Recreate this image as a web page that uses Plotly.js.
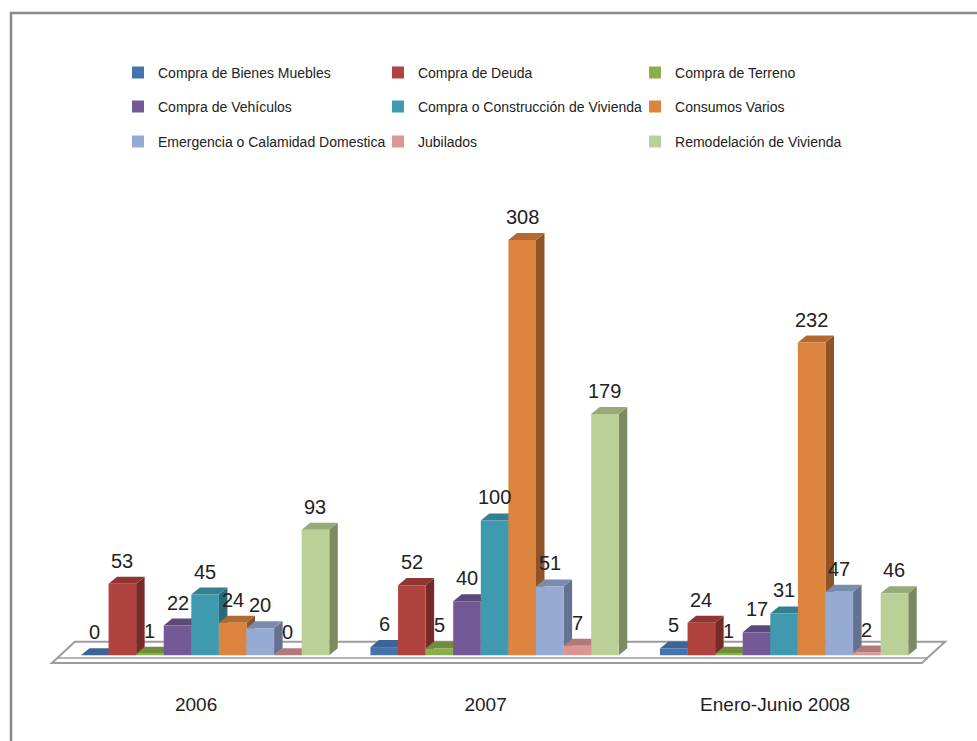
<!DOCTYPE html>
<html>
<head>
<meta charset="utf-8">
<script src="https://cdn.plot.ly/plotly-3.0.1.min.js"></script>
<style>html,body{margin:0;padding:0;background:#fff;}#chart{width:977px;height:741px;}</style>
</head>
<body>
<div id="chart"></div>
<script>
// ---- data ----
const categories = ['2006', '2007', 'Enero-Junio 2008'];
const seriesNames = [
  'Compra de Bienes Muebles', 'Compra de Deuda', 'Compra de Terreno',
  'Compra de Vehículos', 'Compra o Construcción de Vivienda', 'Consumos Varios',
  'Emergencia o Calamidad Domestica', 'Jubilados', 'Remodelación de Vivienda'
];
const bienesMuebles = [0, 6, 5];
const deuda = [53, 52, 24];
const terreno = [1, 5, 1];
const vehiculos = [22, 40, 17];
const vivienda = [45, 100, 31];
const consumos = [24, 308, 232];
const emergencia = [20, 51, 47];
const jubilados = [0, 7, 2];
const remodelacion = [93, 179, 46];
const seriesValues = [bienesMuebles, deuda, terreno, vehiculos, vivienda, consumos, emergencia, jubilados, remodelacion];

// ---- styles ----
const frontColors = ['#4473AE', '#B0433F', '#8AAE4C', '#735A96', '#3F9AB0', '#DB843D', '#95ABD4', '#D99694', '#BBD097'];
const topColors   = ['#3C6496', '#8F3533', '#6F8D3C', '#5D487A', '#347F91', '#B36A30', '#7A8CAE', '#B07A78', '#98A97A'];
const sideColors  = ['#2F507A', '#772B29', '#5A7331', '#4C3B64', '#2B6878', '#8F5328', '#637290', '#8F6362', '#7C8A63'];

const pitch = 0.0953;         // bar slot width (x units)
const depthX = 0.0294;        // 3D depth offset in x units
const depthY = 5.2;           // 3D depth offset in y units
const legendX = [0.0825, 0.3685, 0.6513];
const legendY = [1.2757, 1.2025, 1.1272];
const txtFont = 'Liberation Sans, Arial, sans-serif';

const xIdx = categories.map((c, i) => i);
const traces = [];
const shapes = [];
const annotations = [];

// floor slab
shapes.push({type: 'path', xref: 'x', yref: 'y', layer: 'below',
  path: 'M-0.529,-5.8 L2.476,-5.8 L2.556,10 L-0.45,10 Z',
  fillcolor: '#ffffff', line: {color: '#9c9c9c', width: 2}});
shapes.push({type: 'path', xref: 'x', yref: 'y', layer: 'below',
  path: 'M-0.51,-2.1 L2.494,-2.1',
  line: {color: '#9c9c9c', width: 1.5}});

seriesValues.forEach((vals, i) => {
  const offset = -4.5 * pitch + i * pitch;
  const legendKey = i === 0 ? 'legend' : 'legend' + (i + 1);
  traces.push({
    type: 'bar', name: seriesNames[i], x: xIdx, y: vals,
    offset: offset, width: pitch,
    marker: {color: frontColors[i], line: {width: 0}},
    legend: legendKey, hoverinfo: 'name+y'
  });
  vals.forEach((v, g) => {
    const l = g + offset, r = l + pitch;
    // side face
    shapes.push({type: 'path', xref: 'x', yref: 'y', layer: 'below',
      path: `M${r},0 L${r + depthX},${depthY} L${r + depthX},${v + depthY} L${r},${v} Z`,
      fillcolor: sideColors[i], line: {width: 0}});
    // top face
    shapes.push({type: 'path', xref: 'x', yref: 'y', layer: 'below',
      path: `M${l},${v} L${r},${v} L${r + depthX},${v + depthY} L${l + depthX},${v + depthY} Z`,
      fillcolor: topColors[i], line: {width: 0}});
    annotations.push({xref: 'x', yref: 'y', x: l + pitch / 2, y: v, text: String(v),
      showarrow: false, yanchor: 'bottom', xanchor: 'center', yshift: 10,
      font: {family: txtFont, size: 20, color: '#222'}});
  });
});

// outer frame (left and top border)
shapes.push({type: 'path', xref: 'paper', yref: 'paper', layer: 'above',
  path: 'M-0.0352,-0.17 L-0.0352,1.4043 L1.03,1.4043',
  line: {color: '#8a8a8a', width: 2.5}});

const layout = {
  width: 977, height: 741,
  margin: {l: 43, r: 25, t: 201, b: 75},
  paper_bgcolor: '#ffffff', plot_bgcolor: '#ffffff',
  barmode: 'overlay',
  showlegend: true,
  xaxis: {range: [-0.56, 2.58], tickvals: xIdx, ticktext: categories,
    showgrid: false, zeroline: false, showline: false, ticks: '',
    ticklabelstandoff: 25, ticklabelshift: -9,
    tickfont: {family: txtFont, size: 19, color: '#222'}, fixedrange: true},
  yaxis: {range: [-8, 337], visible: false, fixedrange: true},
  shapes: shapes,
  annotations: annotations
};
seriesNames.forEach((n, i) => {
  const key = i === 0 ? 'legend' : 'legend' + (i + 1);
  layout[key] = {x: legendX[i % 3], y: legendY[Math.floor(i / 3)],
    xanchor: 'left', yanchor: 'middle', orientation: 'h',
    bgcolor: 'rgba(0,0,0,0)', borderwidth: 0,
    font: {family: txtFont, size: 14, color: '#222'}};
});

Plotly.newPlot('chart', traces, layout, {displayModeBar: false, staticPlot: true});
</script>
</body>
</html>
